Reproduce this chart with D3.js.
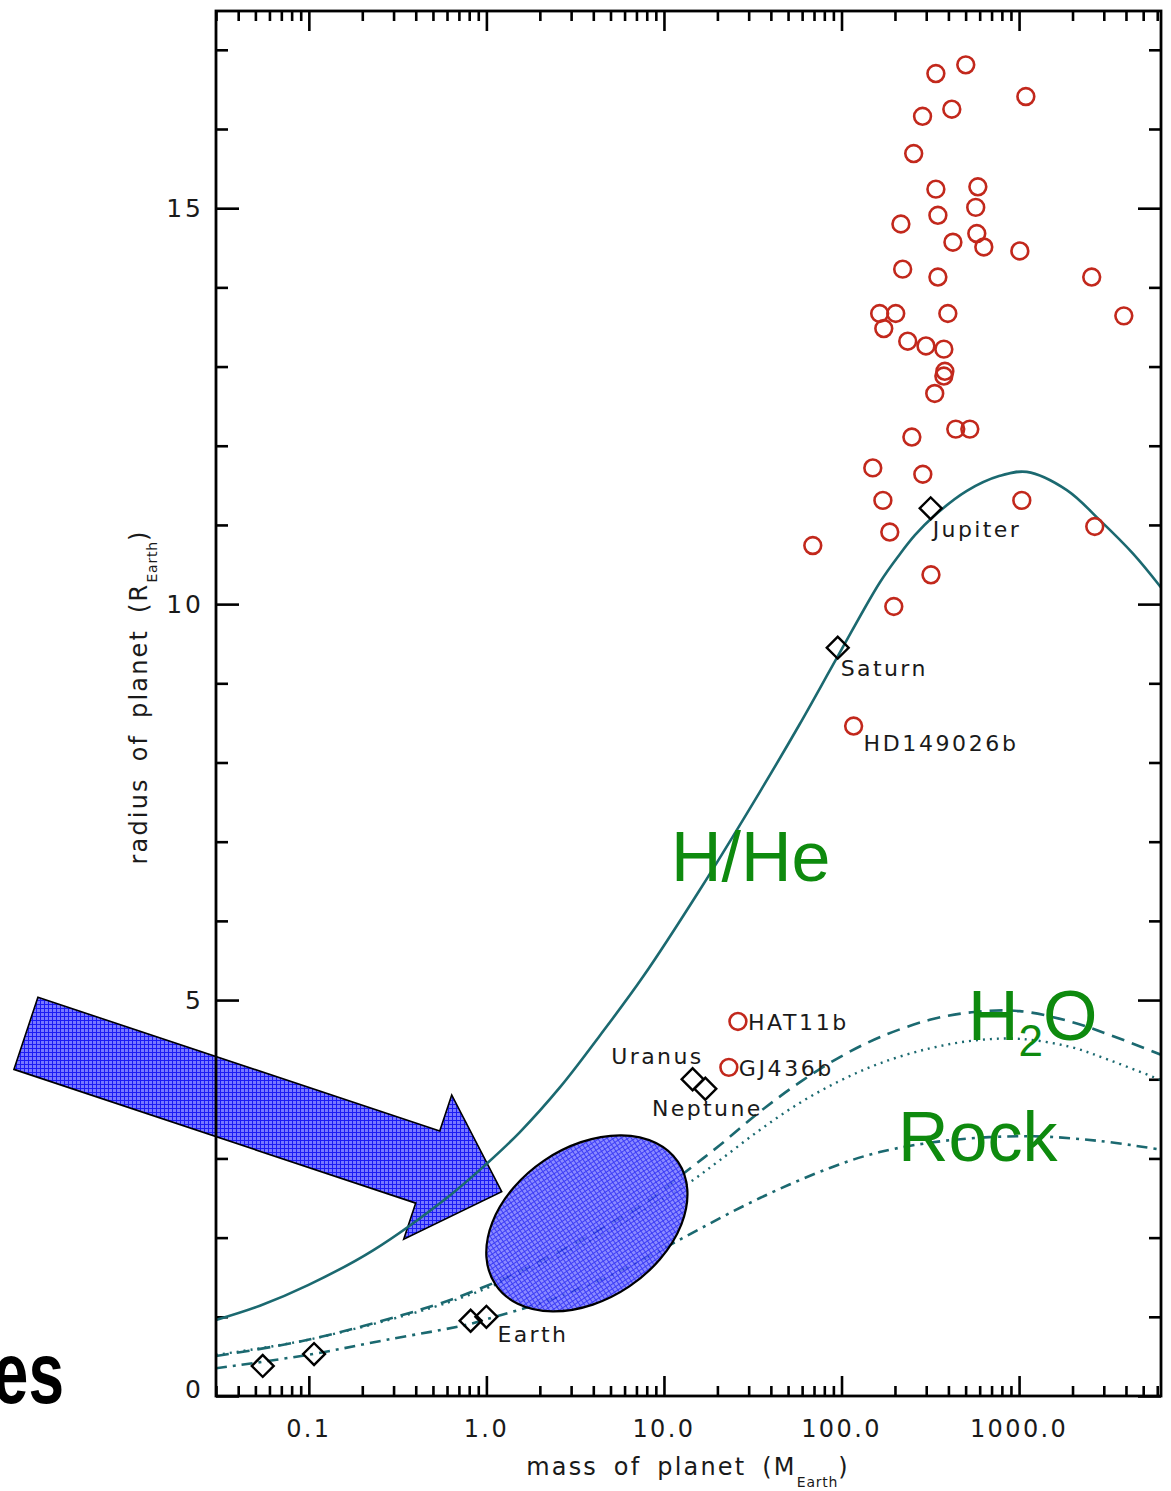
<!DOCTYPE html>
<html>
<head>
<meta charset="utf-8">
<script src="https://cdn.jsdelivr.net/npm/d3@7"></script>
<style>
  body { margin: 0; background: #fff; }
  svg { display: block; }
</style>
</head>
<body>
<svg id="chart" width="1171" height="1491"></svg>
<script>
// ---- axis ticks ----
const massMajorTicks = [0.1, 1, 10, 100, 1000];
const massTickLabels = ["0.1", "1.0", "10.0", "100.0", "1000.0"];
const radiusMajorTicks = [0, 5, 10, 15];
const radiusTickLabels = ["0", "5", "10", "15"];

// ---- mass-radius relations (mass in M_Earth, radius in R_Earth) ----
const hheMass   = [0.03, 0.053, 0.099, 0.23, 0.62, 1.0, 1.54, 2.6, 4.35, 7.6, 15.9, 34.7, 58, 95.2, 164, 213, 259, 327, 508, 779, 1105, 1857, 2848, 4370, 6300];
const hheRadius = [0.96, 1.14, 1.40, 1.84, 2.53, 2.93, 3.33, 3.90, 4.55, 5.29, 6.39, 7.63, 8.48, 9.34, 10.27, 10.63, 10.87, 11.10, 11.43, 11.62, 11.67, 11.44, 11.06, 10.64, 10.21];

const waterMass   = [0.03, 0.099, 0.50, 1.0, 1.69, 4.35, 8.33, 13.6, 20.7, 34.7, 58.1, 97.9, 164, 314, 563, 1010, 1932, 3243, 6300];
const waterRadius = [0.505, 0.71, 1.14, 1.39, 1.62, 2.10, 2.48, 2.85, 3.17, 3.59, 3.96, 4.28, 4.53, 4.75, 4.85, 4.86, 4.73, 4.56, 4.31];

const iceMass   = [0.03, 0.099, 0.50, 1.0, 1.69, 4.35, 8.33, 13.6, 20.7, 34.7, 58.1, 97.9, 164, 314, 563, 1010, 1932, 3243, 6300];
const iceRadius = [0.52, 0.71, 1.12, 1.36, 1.58, 2.02, 2.39, 2.68, 2.98, 3.36, 3.70, 3.98, 4.20, 4.39, 4.49, 4.51, 4.41, 4.24, 3.99];

const rockMass   = [0.03, 0.099, 0.275, 0.777, 1.0, 2.0, 4.35, 8.33, 15.9, 34.7, 86, 164, 407, 1149, 2848, 6300];
const rockRadius = [0.35, 0.52, 0.71, 0.90, 0.97, 1.17, 1.46, 1.77, 2.11, 2.50, 2.88, 3.08, 3.23, 3.28, 3.22, 3.11];

// ---- solar-system planets ----
const solarNames  = ["Mercury", "Mars", "Venus", "Earth", "Uranus", "Neptune", "Saturn", "Jupiter"];
const solarMass   = [0.055, 0.107, 0.815, 1.0, 14.5, 17.1, 95.2, 317.8];
const solarRadius = [0.38, 0.53, 0.95, 1.0, 4.0, 3.88, 9.45, 11.21];
const solarLabelled = ["Earth", "Uranus", "Neptune", "Saturn", "Jupiter"];

// ---- transiting exoplanets ----
const exoNames = ["", "", "", "", "", "", "", "", "", "", "", "", "", "", "", "", "", "", "", "", "",
                  "", "", "", "", "", "", "", "", "", "", "", "", "", "", "", "", "", "", "", "",
                  "HD149026b", "HAT11b", "GJ436b"];
const exoMass = [340, 501, 1092, 286, 418, 255, 340, 586, 216, 349, 570, 578, 424, 633, 1010, 221, 349,
                 2565, 164, 202, 397, 3890, 173, 236, 299, 377, 382, 377, 335, 440, 528, 249, 150, 287,
                 171, 1036, 187, 68.9, 2668, 319, 197, 117, 26.1, 23.2];
const exoRadius = [16.70, 16.81, 16.41, 16.16, 16.25, 15.69, 15.24, 15.27, 14.80, 14.91, 15.01, 14.68,
                   14.57, 14.51, 14.46, 14.23, 14.13, 14.13, 13.67, 13.67, 13.67, 13.64, 13.48, 13.32,
                   13.26, 13.22, 12.94, 12.88, 12.66, 12.21, 12.21, 12.11, 11.72, 11.64, 11.31, 11.31,
                   10.91, 10.74, 10.98, 10.37, 9.97, 8.46, 4.73, 4.15];

// ---- annotation: highlighted super-Earth region ----
const regionCenter = [3.68, 2.18];        // [mass, radius]
const arrowTail = [0.00255, 4.58];        // [mass, radius]
const arrowTip  = [1.22, 2.58];           // [mass, radius]

// ================= drawing =================
const svg = d3.select("#chart");
const margin = { left: 216, right: 1161, top: 11, bottom: 1396 };

const x = d3.scaleLog().domain([0.03, 6300]).range([margin.left, margin.right]);
const y = d3.scaleLinear().domain([0, 17.49]).range([margin.bottom, margin.top]);

const teal = "#1b6970";
const ink = "#1a1a1a";
const labelFont = "'DejaVu Sans', Verdana, sans-serif";

// blue cross-hatched fill
const defs = svg.append("defs");
const pat = defs.append("pattern").attr("id", "hatch")
  .attr("width", 4).attr("height", 4).attr("patternUnits", "userSpaceOnUse");
pat.append("rect").attr("width", 4).attr("height", 4).attr("fill", "#7878ff");
pat.append("path").attr("d", "M0,0.5H4M0.5,0V4").attr("stroke", "#1c1cf4").attr("stroke-width", 1);

defs.append("clipPath").attr("id", "plotClip")
  .append("rect").attr("x", margin.left).attr("y", margin.top)
  .attr("width", margin.right - margin.left).attr("height", margin.bottom - margin.top);

// ---- axes (ticks inward on all four sides) ----
const minorMass = [];
for (let e = -2; e <= 3; e++) for (let k = 2; k <= 9; k++) {
  const v = k * Math.pow(10, e);
  if (v >= 0.03 && v <= 6300) minorMass.push(v);
}
const minorRadius = d3.range(0, 18).filter(v => v % 5 !== 0);

function styleAxis(g) {
  g.select(".domain").remove();
  g.selectAll(".tick line").attr("stroke", "#000").attr("stroke-width", 2.6);
  g.selectAll(".tick text").remove();
}
svg.append("g").attr("transform", `translate(0,${margin.bottom})`)
  .call(d3.axisBottom(x).tickValues(massMajorTicks).tickSize(-20)).call(styleAxis);
svg.append("g").attr("transform", `translate(0,${margin.bottom})`)
  .call(d3.axisBottom(x).tickValues(minorMass).tickSize(-10)).call(styleAxis);
svg.append("g").attr("transform", `translate(0,${margin.top})`)
  .call(d3.axisTop(x).tickValues(massMajorTicks).tickSize(-20)).call(styleAxis);
svg.append("g").attr("transform", `translate(0,${margin.top})`)
  .call(d3.axisTop(x).tickValues(minorMass).tickSize(-10)).call(styleAxis);
svg.append("g").attr("transform", `translate(${margin.left},0)`)
  .call(d3.axisLeft(y).tickValues(radiusMajorTicks).tickSize(-23)).call(styleAxis);
svg.append("g").attr("transform", `translate(${margin.left},0)`)
  .call(d3.axisLeft(y).tickValues(minorRadius).tickSize(-12)).call(styleAxis);
svg.append("g").attr("transform", `translate(${margin.right},0)`)
  .call(d3.axisRight(y).tickValues(radiusMajorTicks).tickSize(-23)).call(styleAxis);
svg.append("g").attr("transform", `translate(${margin.right},0)`)
  .call(d3.axisRight(y).tickValues(minorRadius).tickSize(-12)).call(styleAxis);

// tick labels
svg.append("g").selectAll("text").data(massMajorTicks).join("text")
  .attr("x", d => x(d)).attr("y", 1437)
  .attr("text-anchor", "middle")
  .attr("font-family", labelFont).attr("font-size", 24).attr("letter-spacing", 2.4)
  .attr("fill", ink)
  .text((d, i) => massTickLabels[i]);
svg.append("g").selectAll("text").data(radiusMajorTicks).join("text")
  .attr("x", 204).attr("y", d => y(d) + 9 - (d === 0 ? 7 : 0))
  .attr("text-anchor", "end")
  .attr("font-family", labelFont).attr("font-size", 25).attr("letter-spacing", 3)
  .attr("fill", ink)
  .text((d, i) => radiusTickLabels[i]);

// axis titles
const xt = svg.append("text").attr("x", 688).attr("y", 1475).attr("text-anchor", "middle")
  .attr("font-family", labelFont).attr("font-size", 24).attr("letter-spacing", 2.2)
  .attr("word-spacing", 6).attr("fill", ink);
xt.append("tspan").text("mass of planet (M");
xt.append("tspan").attr("font-size", 14).attr("dy", 12).attr("letter-spacing", 0.8).text("Earth");
xt.append("tspan").attr("dy", -12).text(")");

const yt = svg.append("text").attr("transform", "translate(147,697) rotate(-90)")
  .attr("text-anchor", "middle")
  .attr("font-family", labelFont).attr("font-size", 24).attr("letter-spacing", 2.2)
  .attr("word-spacing", 6).attr("fill", ink);
yt.append("tspan").text("radius of planet (R");
yt.append("tspan").attr("font-size", 14).attr("dy", 10).attr("letter-spacing", 0.8).text("Earth");
yt.append("tspan").attr("dy", -10).text(")");

// ---- arrow pointing at the region ----
(function drawArrow() {
  const tx = x(arrowTail[0]), ty = y(arrowTail[1]);
  const hx = x(arrowTip[0]), hy = y(arrowTip[1]);
  const L = Math.hypot(hx - tx, hy - ty);
  const ux = (hx - tx) / L, uy = (hy - ty) / L;
  const nx = -uy, ny = ux;
  const shaftHalf = 38, headHalf = 76, headLen = 78;
  const bx = hx - ux * headLen, by = hy - uy * headLen;
  const pts = [
    [tx - nx * shaftHalf, ty - ny * shaftHalf],
    [bx - nx * shaftHalf, by - ny * shaftHalf],
    [bx - nx * headHalf, by - ny * headHalf],
    [hx, hy],
    [bx + nx * headHalf, by + ny * headHalf],
    [bx + nx * shaftHalf, by + ny * shaftHalf],
    [tx + nx * shaftHalf, ty + ny * shaftHalf]
  ];
  svg.append("path").attr("d", d3.line()(pts) + "Z")
    .attr("fill", "url(#hatch)").attr("stroke", "#000").attr("stroke-width", 1.6)
    .attr("stroke-linejoin", "miter");
})();

// ---- model curves ----
const line = d3.line().x(d => x(d[0])).y(d => y(d[1])).curve(d3.curveCatmullRom.alpha(0.5));
const curves = svg.append("g").attr("clip-path", "url(#plotClip)")
  .attr("fill", "none").attr("stroke", teal).attr("stroke-width", 2.6);
curves.append("path").attr("d", line(d3.zip(hheMass, hheRadius)));
curves.append("path").attr("d", line(d3.zip(waterMass, waterRadius)))
  .attr("stroke-dasharray", "13,8");
curves.append("path").attr("d", line(d3.zip(iceMass, iceRadius)))
  .attr("stroke-dasharray", "2,5").attr("stroke-width", 2.4);
curves.append("path").attr("d", line(d3.zip(rockMass, rockRadius)))
  .attr("stroke-dasharray", "11,6,3,6");

// ---- highlighted region ----
svg.append("ellipse")
  .attr("transform", `translate(${x(regionCenter[0])},${y(regionCenter[1])}) rotate(-34)`)
  .attr("rx", 110).attr("ry", 76)
  .attr("fill", "url(#hatch)").attr("fill-opacity", 0.86)
  .attr("stroke", "#000").attr("stroke-width", 2.2);

// ---- exoplanets ----
svg.append("g").selectAll("circle").data(d3.range(exoMass.length)).join("circle")
  .attr("cx", i => x(exoMass[i])).attr("cy", i => y(exoRadius[i])).attr("r", 8.4)
  .attr("fill", "none").attr("stroke", "#c2281c").attr("stroke-width", 2.6);

const exoLabelOffset = { "HD149026b": [10, 25], "HAT11b": [10, 9], "GJ436b": [10, 9] };
svg.append("g").selectAll("text").data(d3.range(exoMass.length).filter(i => exoNames[i])).join("text")
  .attr("x", i => x(exoMass[i]) + exoLabelOffset[exoNames[i]][0])
  .attr("y", i => y(exoRadius[i]) + exoLabelOffset[exoNames[i]][1])
  .attr("font-family", labelFont).attr("font-size", 22).attr("letter-spacing", 2.6)
  .attr("fill", ink).text(i => exoNames[i]);

// ---- solar-system planets ----
const diamond = d3.symbol().type(d3.symbolSquare).size(240);
svg.append("g").selectAll("path").data(d3.range(solarMass.length)).join("path")
  .attr("d", diamond)
  .attr("transform", i => `translate(${x(solarMass[i])},${y(solarRadius[i])}) rotate(45)`)
  .attr("fill", "none").attr("stroke", "#000").attr("stroke-width", 2.4);

const solarLabelPlace = {
  "Earth":   { dx: 11, dy: 25, anchor: "start" },
  "Uranus":  { dx: 11, dy: -15, anchor: "end" },
  "Neptune": { dx: 2, dy: 27, anchor: "middle" },
  "Saturn":  { dx: 3, dy: 28, anchor: "start" },
  "Jupiter": { dx: 2, dy: 29, anchor: "start" }
};
svg.append("g").selectAll("text")
  .data(d3.range(solarMass.length).filter(i => solarLabelled.includes(solarNames[i]))).join("text")
  .attr("x", i => x(solarMass[i]) + solarLabelPlace[solarNames[i]].dx)
  .attr("y", i => y(solarRadius[i]) + solarLabelPlace[solarNames[i]].dy)
  .attr("text-anchor", i => solarLabelPlace[solarNames[i]].anchor)
  .attr("font-family", labelFont).attr("font-size", 22).attr("letter-spacing", 2.4)
  .attr("fill", ink).text(i => solarNames[i]);

// ---- composition labels ----
const green = "#0e8a0e";
const compFont = "'Liberation Sans', Arial, Helvetica, sans-serif";
svg.append("text").attr("x", 671).attr("y", 881)
  .attr("font-family", compFont).attr("font-size", 70).attr("fill", green).text("H/He");
const h2o = svg.append("text").attr("x", 968).attr("y", 1040)
  .attr("font-family", compFont).attr("font-size", 70).attr("fill", green);
h2o.append("tspan").text("H");
h2o.append("tspan").attr("font-size", 44).attr("dy", 16).text("2");
h2o.append("tspan").attr("dy", -16).text("O");
svg.append("text").attr("x", 898).attr("y", 1161)
  .attr("font-family", compFont).attr("font-size", 70).attr("fill", green).text("Rock");

// ---- slide title fragment at the lower left ----
svg.append("text").attr("transform", "translate(64,1403) scale(1,1.35)")
  .attr("text-anchor", "end")
  .attr("font-family", compFont).attr("font-weight", "bold").attr("font-size", 64)
  .attr("fill", "#000").text("es");

// ---- frame ----
svg.append("rect").attr("x", margin.left).attr("y", margin.top)
  .attr("width", margin.right - margin.left).attr("height", margin.bottom - margin.top)
  .attr("fill", "none").attr("stroke", "#000").attr("stroke-width", 2.8);
</script>
</body>
</html>
